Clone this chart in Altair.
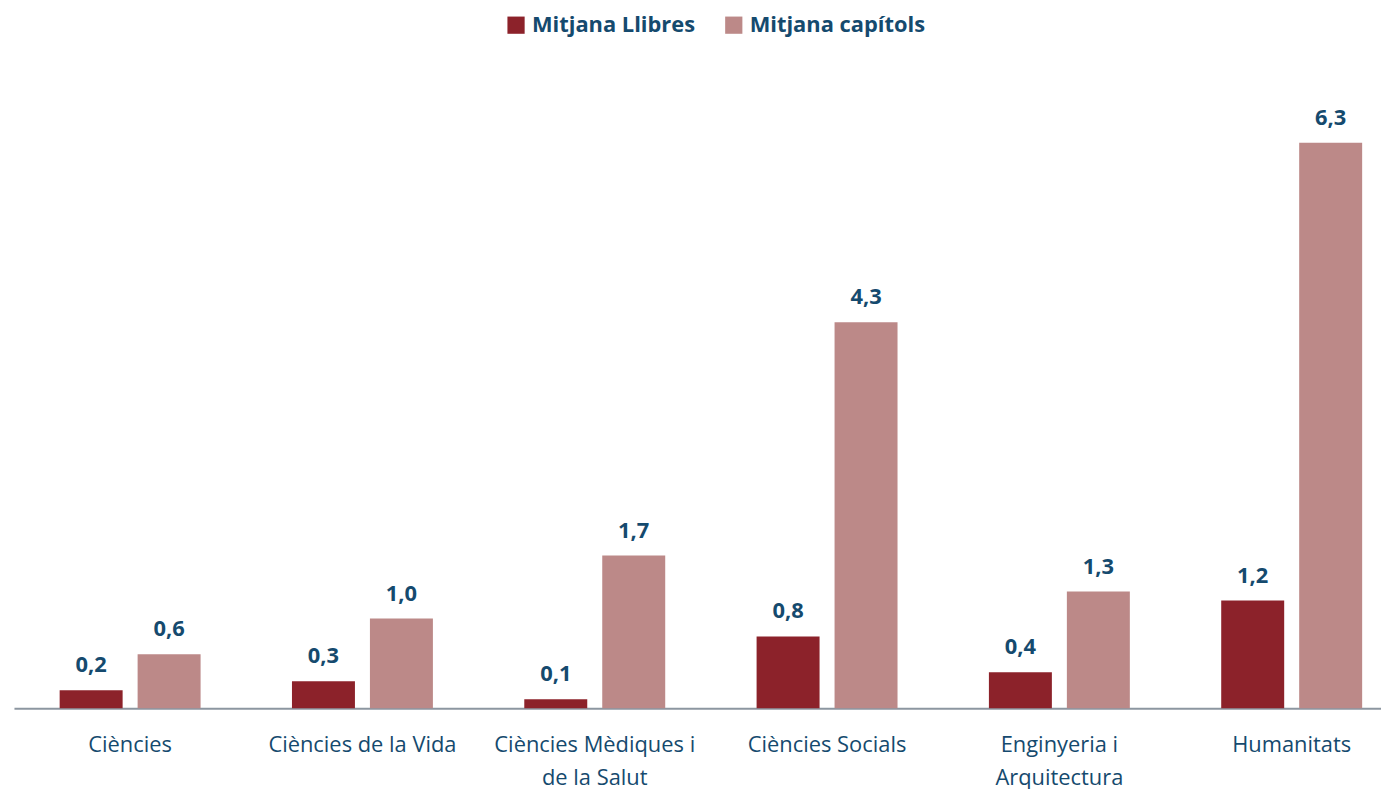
import altair as alt
import pandas as pd
import json

categories = [
    "Ciències",
    "Ciències de la Vida",
    "Ciències Mèdiques i de la Salut",
    "Ciències Socials",
    "Enginyeria i Arquitectura",
    "Humanitats",
]
series = ["Mitjana Llibres", "Mitjana capítols"]
llibres = [0.2, 0.3, 0.1, 0.8, 0.4, 1.2]
capitols = [0.6, 1.0, 1.7, 4.3, 1.3, 6.3]

# category label line breaks
label_lines = {
    "Ciències Mèdiques i de la Salut": ["Ciències Mèdiques i", "de la Salut"],
    "Enginyeria i Arquitectura": ["Enginyeria i", "Arquitectura"],
}

rows = []
for c, a, b in zip(categories, llibres, capitols):
    rows.append({"area": c, "serie": series[0], "valor": a})
    rows.append({"area": c, "serie": series[1], "valor": b})
df = pd.DataFrame(rows)

TEXT = "#154A6E"
FONT = "Open Sans"

label_expr = "".join(
    f"datum.label == {json.dumps(k)} ? {json.dumps(v)} : " for k, v in label_lines.items()
) + "datum.label"

x = alt.X(
    "area:N",
    sort=categories,
    scale=alt.Scale(range=[3, 1405], paddingInner=0, paddingOuter=0),
    axis=alt.Axis(
        title=None,
        ticks=False,
        domainColor="#8C96A0",
        domainWidth=2,
        labelAngle=0,
        labelFont=FONT,
        labelFontSize=22,
        labelColor=TEXT,
        labelPadding=27,
        labelBaseline="top",
        labelLineHeight=33,
        labelLimit=0,
        labelExpr=label_expr,
    ),
)
xo = alt.XOffset(
    "serie:N",
    sort=series,
    scale=alt.Scale(paddingInner=0.1923, paddingOuter=0.586),
)
y = alt.Y(
    "valor:Q",
    scale=alt.Scale(domain=[0, 7], nice=False),
    axis=None,
)

bars = alt.Chart(df).mark_bar().encode(
    x=x,
    xOffset=xo,
    y=y,
    color=alt.Color(
        "serie:N",
        sort=series,
        scale=alt.Scale(domain=series, range=["#8C222A", "#BC8988"]),
        legend=alt.Legend(
            title=None,
            orient="none",
            direction="horizontal",
            legendX=497,
            legendY=-66,
            symbolType="square",
            symbolSize=300,
            symbolStrokeWidth=0,
            labelFont=FONT,
            labelFontSize=22,
            labelFontWeight="bold",
            labelColor=TEXT,
            labelOffset=5,
            labelLimit=0,
            columnPadding=27,
        ),
    ),
)

labels = alt.Chart(df).transform_calculate(
    txt="replace(format(datum.valor, '.1f'), '.', ',')"
).mark_text(
    font=FONT, fontSize=22, fontWeight="bold", color=TEXT, baseline="alphabetic", dy=-18
).encode(
    x=x,
    xOffset=xo,
    y=y,
    text="txt:N",
)

chart = alt.layer(bars, labels).properties(
    width=1378,
    height=632,
    autosize=alt.AutoSizeParams(type="none"),
    padding={"left": 3, "top": 70, "right": 0, "bottom": 80},
).configure_view(stroke=None)

chart.save("out.html", embed_options={"renderer": "svg", "actions": False})
